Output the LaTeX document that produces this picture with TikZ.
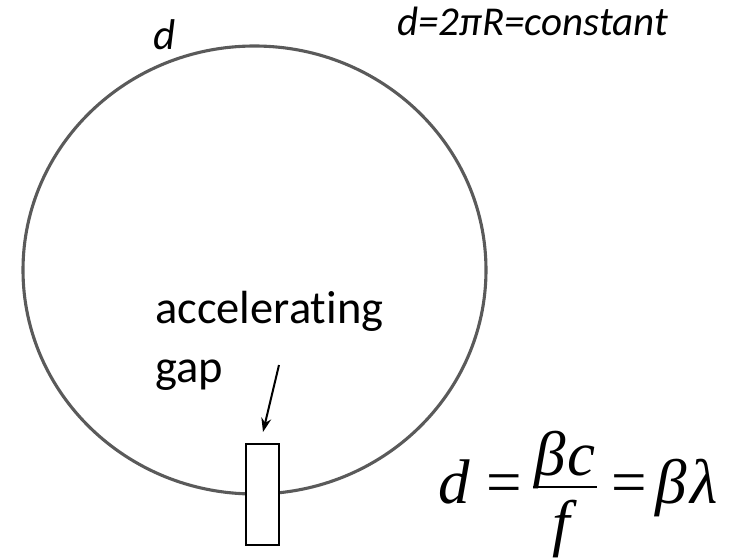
\documentclass[tikz,border=0pt]{standalone}
\usepackage{fontspec}
\setmainfont{Carlito}[Ligatures=CommonOff]
\newfontfamily\tms{Liberation Serif}
\usetikzlibrary{arrows.meta}
\definecolor{ringgray}{HTML}{5A5A5A}
\tikzset{
  ring/.style={draw=ringgray, line width=3.1pt},
  gapbox/.style={draw=black, line width=2pt, fill=white},
  pointer/.style={draw=black, line width=2pt, -{Stealth[length=14pt,width=10pt]}},
  lbl/.style={inner sep=0pt, text=black},
  eqtxt/.style={inner sep=0pt, text=black, font=\tms\fontsize{63}{75}\selectfont},
  fracbar/.style={draw=black, line width=2.2pt}
}
\begin{document}
\begin{tikzpicture}[x=1pt,y=-1pt]
\useasboundingbox (0,0) rectangle (737,559);
% ring
\draw[ring] (254.5,270) ellipse [x radius=231.5, y radius=224];
% gap
\draw[gapbox] (246,444) rectangle (279,545);
\coordinate (gaptop) at (263,432);
% labels
\node[lbl, anchor=base west] (dlab) at (153,50) {\fontsize{43}{50}\selectfont\itshape d};
\node[lbl, anchor=base west] (circ) at (397,36) {\fontsize{41}{48}\selectfont\itshape d=2π{}R=constant};
\node[lbl, anchor=base west] (acc) at (155,323) {\fontsize{46.5}{56}\selectfont accelerating};
\node[lbl, anchor=base west] (gap) at (155,382) {\fontsize{46.5}{56}\selectfont gap};
\coordinate (arrstart) at (279,365);
\draw[pointer] (arrstart) -- (gaptop);
% equation
\node[eqtxt, anchor=base west] (eqd) at (438,503) {\itshape d};
\node[eqtxt, anchor=base west] (eqa) at (486,503) {=};
\node[eqtxt, anchor=base] (num) at (565,475) {\itshape β\kern1pt c};
\node[eqtxt, anchor=base] (den) at (561,544) {\itshape f};
\coordinate (barl) at (533,487);
\coordinate (barr) at (597,487);
\draw[fracbar] (barl) -- (barr);
\node[eqtxt, anchor=base west] (eqb) at (611,503) {=};
\node[eqtxt, anchor=base west] (bl) at (655,503) {\itshape β\kern4pt λ};
\end{tikzpicture}
\end{document}
